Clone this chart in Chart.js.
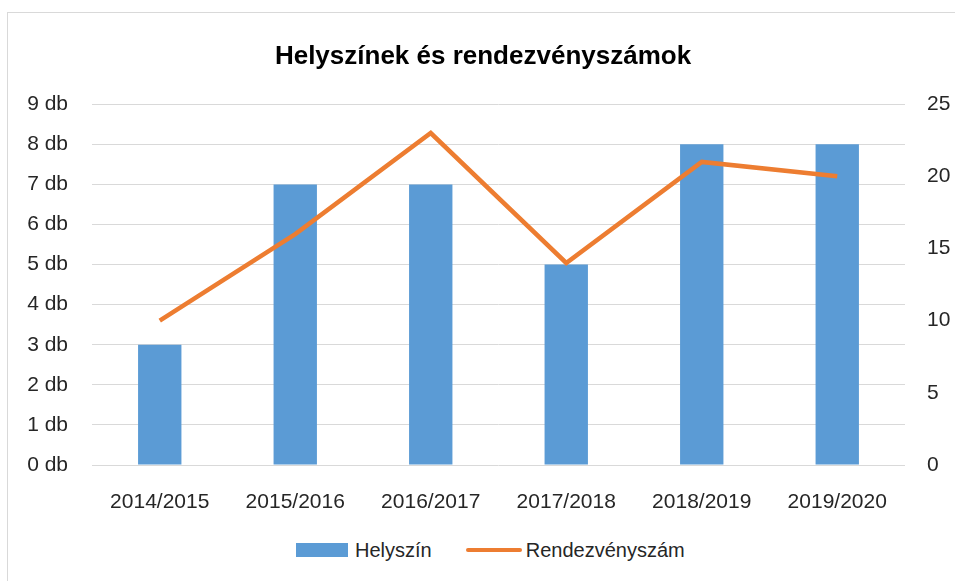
<!DOCTYPE html>
<html lang="hu">
<head>
    <meta charset="UTF-8">
    <title>Helyszínek és rendezvényszámok</title>
    <script src="https://cdn.jsdelivr.net/npm/chart.js"></script>
    <style>
      html, body { margin: 0; background: #fff; overflow: hidden; font-family: "Liberation Sans", Arial, sans-serif; }
      #box { position: absolute; left: 7px; top: 12px; width: 970px; height: 600px; border: 1px solid #d9d9d9; }
      #wrap { position: absolute; left: 0; top: 0; width: 950px; height: 510px; }
      #legend { position: absolute; top: 524px; left: 288px; height: 26px; display: flex; align-items: center; font-size: 20px; color: #262626; }
      .sw { display: inline-block; margin-right: 7px; }
      .bar { width: 52px; height: 14px; background: #5B9BD5; }
      .ln { width: 56px; height: 4px; border-radius: 2px; background: #ED7D31; }
    </style>
</head>
<body>
  <div id="box">
    <div id="wrap"><canvas id="myChart"></canvas></div>
    <div id="legend">
      <span class="sw bar"></span><span>Helyszín</span>
      <span class="sw ln" style="margin-left:34px;margin-right:4px"></span><span>Rendezvényszám</span>
    </div>
  </div>
  <script>
    const labels = ['2014/2015', '2015/2016', '2016/2017', '2017/2018', '2018/2019', '2019/2020'];
    const helyszin = [3, 7, 7, 5, 8, 8];
    const rendezveny = [10, 16, 23, 14, 21, 20];

    const tickFont = { family: '"Liberation Sans", Arial, sans-serif', size: 21 };
    const ctx = document.getElementById('myChart');
    let configs = {
      data: {
        labels: labels,
        datasets: [
          {
            type: 'line',
            label: 'Rendezvényszám',
            data: rendezveny,
            borderColor: '#ED7D31',
            backgroundColor: '#ED7D31',
            borderWidth: 4.5,
            pointRadius: 0,
            tension: 0,
            yAxisID: 'y2',
            order: 0
          },
          {
            type: 'bar',
            label: 'Helyszín',
            data: helyszin,
            backgroundColor: '#5B9BD5',
            barPercentage: 0.32,
            categoryPercentage: 1,
            yAxisID: 'y',
            order: 1
          }
        ]
      },
      options: {
        responsive: true,
        maintainAspectRatio: false,
        animation: false,
        layout: { padding: 0 },
        plugins: {
          legend: { display: false },
          tooltip: { enabled: false },
          title: {
            display: true,
            text: 'Helyszínek és rendezvényszámok',
            color: '#000',
            font: { family: '"Liberation Sans", Arial, sans-serif', size: 26, weight: 'bold' },
            padding: { top: 28, bottom: 32 }
          }
        },
        scales: {
          x: {
            grid: { display: false },
            border: { display: false },
            ticks: { color: '#262626', font: tickFont, padding: 17, maxRotation: 0 },
            afterFit: function(s) { s.height = 58; }
          },
          y: {
            position: 'left',
            min: 0, max: 9,
            grid: { color: '#d9d9d9', lineWidth: 1, drawTicks: false },
            border: { display: false },
            ticks: { stepSize: 1, color: '#262626', font: tickFont, padding: 24,
                     callback: v => v + ' db' },
            afterFit: function(s) { s.width = 84; }
          },
          y2: {
            position: 'right',
            min: 0, max: 25,
            grid: { display: false, drawTicks: false },
            border: { display: false },
            ticks: { stepSize: 5, color: '#262626', font: tickFont, padding: 22 },
            afterFit: function(s) { s.width = 53; }
          }
        }
      }
    };
    let myChart = new Chart(ctx, configs);
  </script>
</body>
</html>
